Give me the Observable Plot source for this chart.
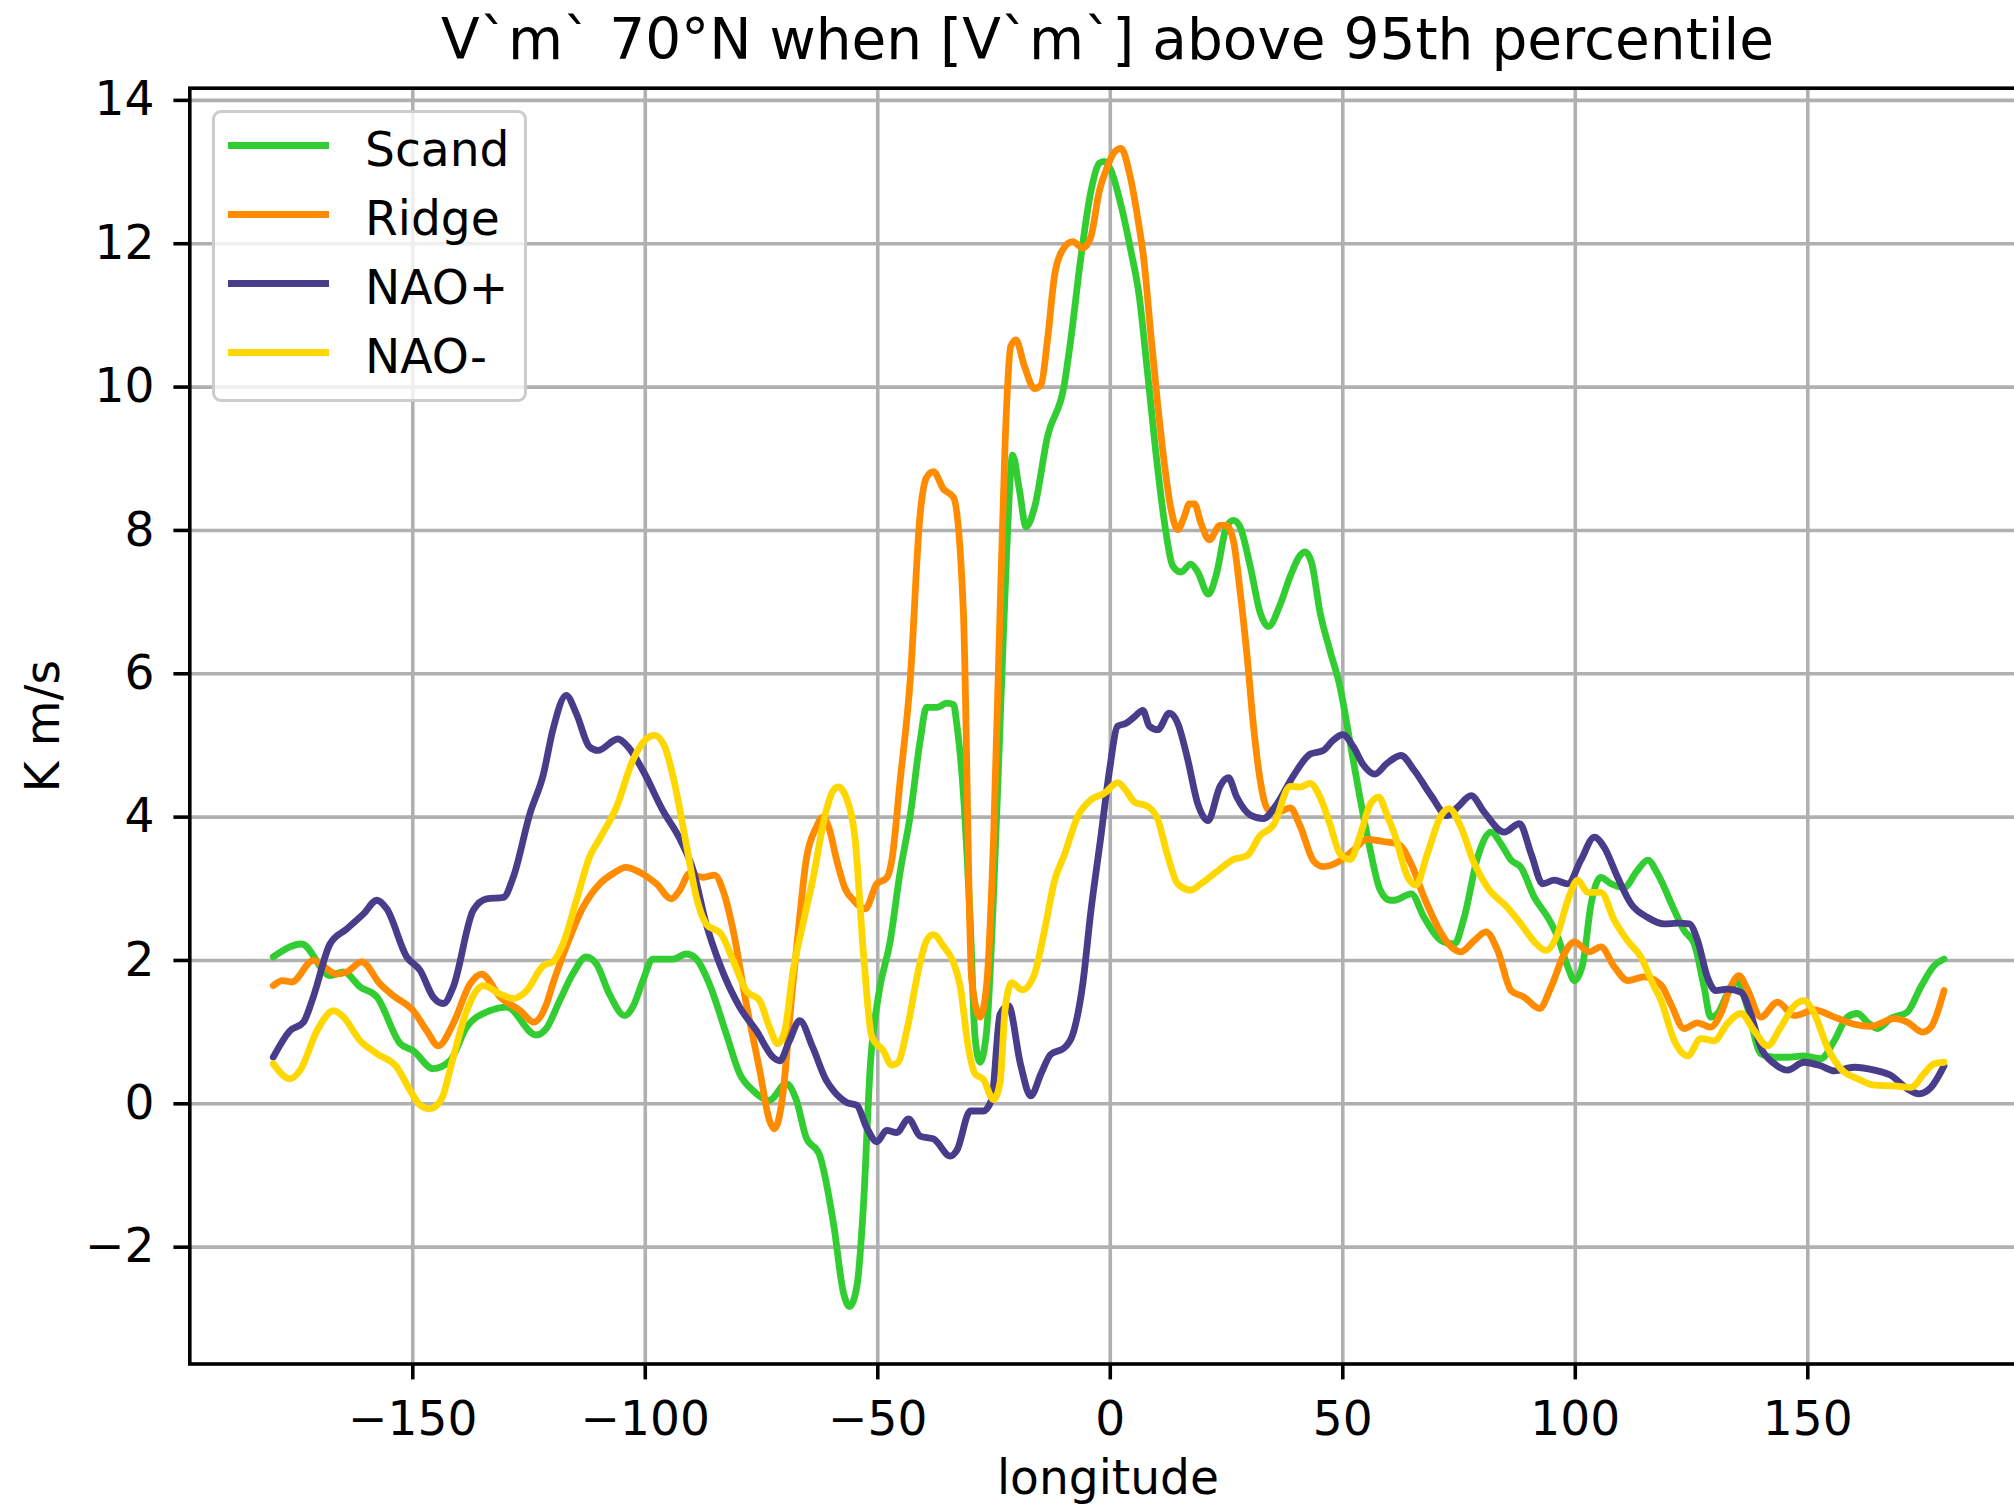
<!DOCTYPE html>
<html><head><meta charset="utf-8">
<script src="https://cdn.jsdelivr.net/npm/d3@7"></script>
<script src="https://cdn.jsdelivr.net/npm/@observablehq/plot@0.6"></script>
<style>
html,body{margin:0;padding:0;background:#fff;overflow:hidden;}
#wrap{position:relative;width:2014px;height:1506px;font-family:"DejaVu Sans",sans-serif;color:#000;}
#chart{position:absolute;left:0;top:0;}
#title{position:absolute;left:1107.5px;top:12.2px;transform:translateX(-50%);white-space:nowrap;font-size:56.5px;line-height:56.5px;}
#legend{position:absolute;left:211.9px;top:110px;width:315.4px;height:292.3px;box-sizing:border-box;border:3.6px solid #cccccc;border-radius:9px;background:rgba(255,255,255,0.8);}
.sw{position:absolute;left:12.8px;width:101px;height:6.8px;}
.lt{position:absolute;left:150.2px;font-size:47.1px;line-height:47.1px;white-space:nowrap;}
</style></head>
<body><div id="wrap"><div id="chart"></div><div id="title">V`m` 70°N when [V`m`] above 95th percentile</div><div id="legend"></div></div>
<script>
const titleText = "V`m` 70°N when [V`m`] above 95th percentile";
const xLabel = "longitude";
const yLabel = "K m/s";
const xTicks = [-150, -100, -50, 0, 50, 100, 150];
const yTicks = [-2, 0, 2, 4, 6, 8, 10, 12, 14];
const seriesNames = ["Scand", "Ridge", "NAO+", "NAO-"];
const seriesColors = ["#32cd32", "#ff8c00", "#483d8b", "#ffd700"];

const scand = [[-180,2.05],[-173.9,2.23],[-167.8,1.79],[-164.9,1.84],[-161.3,1.63],[-157.7,1.49],[-152.7,0.84],[-149.9,0.74],[-145.6,0.49],[-142,0.6],[-138.4,1.07],[-133.4,1.30],[-129.8,1.35],[-123.5,0.96],[-121.3,1.05],[-118.4,1.44],[-115.6,1.81],[-112.7,2.05],[-110.5,1.95],[-107.7,1.53],[-104.4,1.23],[-102.7,1.35],[-100.5,1.72],[-98.4,2.02],[-94,2.02],[-91.2,2.09],[-89,2.02],[-86.2,1.67],[-82.6,0.98],[-79.7,0.42],[-76.9,0.19],[-73.3,0.05],[-69.7,0.28],[-67.5,0.05],[-65.4,-0.47],[-62.6,-0.7],[-59.5,-1.68],[-57.4,-2.63],[-56.1,-2.83],[-54.5,-2.55],[-53.1,-1.44],[-51.6,0.54],[-49.9,1.49],[-47.3,2.28],[-45.2,3.23],[-43,4.03],[-40.9,5.06],[-39.5,5.53],[-37.3,5.53],[-35.2,5.59],[-33.7,5.57],[-33,5.29],[-31.6,4.34],[-30.1,2.52],[-29.1,0.94],[-28,0.58],[-26.6,1.01],[-25.1,2.92],[-23.7,5.29],[-22.3,7.67],[-21,9.05],[-19.6,8.59],[-18.1,8.05],[-16.3,8.32],[-13.5,9.31],[-9.9,10.03],[-8.5,10.66],[-6.3,11.82],[-4.2,12.72],[-2.4,13.12],[-1.3,13.15],[0.1,13.03],[2.3,12.54],[4.4,11.91],[6.2,11.28],[8,10.21],[10.2,8.86],[12,7.96],[13.4,7.51],[15.2,7.42],[17.3,7.53],[18.8,7.42],[21.1,7.11],[22.9,7.41],[25,8.05],[26.5,8.14],[27.9,8.05],[30.1,7.50],[32.2,6.86],[34,6.66],[36.5,6.96],[38.7,7.36],[40.8,7.65],[41.9,7.70],[43.3,7.55],[45.1,6.86],[47.3,6.31],[49.4,5.82],[51.6,5.03],[53.7,4.27],[55.9,3.54],[58,2.99],[60.2,2.84],[61.1,2.84],[64.7,2.93],[67.5,2.60],[71.1,2.28],[74,2.23],[76.1,2.60],[79,3.44],[81.9,3.79],[84,3.63],[86.2,3.40],[88.3,3.30],[91.2,2.88],[94.1,2.60],[96.2,2.33],[98.4,1.91],[99.8,1.72],[101.6,1.95],[103.4,2.79],[105.5,3.16],[107.7,3.07],[110.5,3.02],[113.4,3.26],[115.6,3.40],[117.7,3.21],[121.3,2.70],[123.4,2.42],[125.6,2.23],[127.7,1.63],[129.1,1.21],[130.6,1.26],[132.7,1.53],[134.9,1.70],[137,1.35],[139.9,0.70],[142.8,0.65],[145.6,0.65],[149.2,0.67],[152.8,0.63],[155.7,0.88],[158.5,1.21],[160.7,1.26],[162.8,1.14],[165,1.05],[167.8,1.19],[171.4,1.28],[174.3,1.63],[177.2,1.93],[179.3,2.02]];

const ridge = [[-180,1.65],[-178,1.72],[-176,1.70],[-171.4,2.0],[-166.3,1.81],[-164.2,1.84],[-161,1.98],[-157,1.67],[-154.2,1.51],[-149.9,1.30],[-147,1.02],[-144.5,0.81],[-141.3,1.12],[-137.7,1.67],[-135.2,1.81],[-131.2,1.49],[-126.9,1.30],[-124,1.14],[-121.2,1.40],[-119.9,1.67],[-117,2.19],[-113.4,2.74],[-109.8,3.07],[-107,3.21],[-104.1,3.30],[-101.2,3.23],[-97.6,3.07],[-94.4,2.86],[-92.6,2.98],[-90.5,3.21],[-87.6,3.16],[-85.1,3.19],[-83.3,2.98],[-81.1,2.42],[-78.3,1.40],[-75.4,0.47],[-73.3,-0.23],[-72.2,-0.35],[-70.4,0.14],[-68.6,1.44],[-66.8,2.60],[-65.4,3.40],[-63.2,3.86],[-61.8,4.0],[-60.5,3.85],[-58.8,3.39],[-57,3.0],[-55.2,2.84],[-52.7,2.72],[-50.2,3.07],[-48.1,3.15],[-47,3.39],[-45.2,4.50],[-43,5.93],[-40.9,8.22],[-39.5,8.74],[-38,8.82],[-35.9,8.58],[-33.7,8.46],[-31.6,6.88],[-29.8,1.73],[-28,1.21],[-26.6,1.65],[-25.1,3.71],[-23.7,6.88],[-22.6,9.25],[-21.4,10.57],[-20.3,10.66],[-18.5,10.30],[-16.3,9.98],[-14.9,10.03],[-13.5,10.66],[-12,11.55],[-10.3,11.91],[-8.1,12.03],[-5.9,11.94],[-4.2,12.09],[-2.4,12.72],[-0.6,13.08],[0.9,13.28],[2.3,13.33],[4.1,12.99],[5.9,12.36],[7.3,11.73],[8.7,10.75],[10.2,9.76],[11.6,8.95],[13,8.32],[14.5,8.01],[15.9,8.19],[17,8.37],[18.1,8.37],[19.5,8.10],[21.3,7.87],[23.6,8.07],[25,8.07],[26.5,7.85],[27.9,7.16],[29.4,6.26],[30.8,5.27],[32.2,4.53],[34,4.10],[36.5,4.08],[38.7,4.13],[40.8,3.88],[43.7,3.39],[45.8,3.31],[49.4,3.39],[52.3,3.54],[55.2,3.69],[58.7,3.66],[61.8,3.63],[64.7,3.35],[67.5,2.88],[70.4,2.47],[73.3,2.19],[75.4,2.12],[78.3,2.28],[80.8,2.40],[83.3,2.14],[86.2,1.58],[89,1.49],[92.3,1.33],[94.8,1.63],[97.6,2.09],[99.8,2.26],[103,2.12],[105.5,2.19],[108.4,1.91],[111.3,1.72],[114.8,1.77],[118.4,1.66],[120.5,1.40],[123.4,1.05],[126.3,1.13],[129.1,1.07],[131.3,1.26],[133.4,1.63],[135.2,1.79],[137,1.60],[139.9,1.21],[143.5,1.42],[147.1,1.23],[151.4,1.31],[155.7,1.21],[160,1.11],[163.5,1.08],[168.6,1.19],[171.4,1.14],[174.7,1.00],[176.5,1.07],[179.3,1.58]];

const naoPlus = [[-180,0.65],[-176.4,1.02],[-173.5,1.14],[-171.4,1.49],[-167.8,2.23],[-164.2,2.44],[-160.6,2.65],[-157.7,2.84],[-155.6,2.72],[-151.3,2.05],[-148.4,1.86],[-145.6,1.49],[-143.4,1.40],[-141.3,1.63],[-137,2.70],[-134.1,2.86],[-130.5,2.88],[-128.4,3.16],[-124.8,4.05],[-121.9,4.6],[-119.9,5.21],[-117,5.70],[-114.8,5.44],[-112,4.98],[-110.2,4.93],[-105.9,5.09],[-103.7,4.98],[-100.5,4.65],[-96.2,4.09],[-92.6,3.70],[-89.7,3.26],[-86.9,2.51],[-84,1.95],[-79.7,1.35],[-76.1,1.02],[-72.5,0.65],[-71.1,0.60],[-69,0.88],[-66.8,1.16],[-64,0.79],[-61.1,0.33],[-59.5,0.18],[-56.7,0.02],[-54.5,-0.02],[-52.4,-0.33],[-50.2,-0.53],[-48.1,-0.37],[-45.9,-0.40],[-43.4,-0.21],[-40.9,-0.45],[-38,-0.49],[-34.4,-0.73],[-33,-0.65],[-30.1,-0.10],[-27.3,-0.10],[-25.5,0.06],[-23.7,1.25],[-21.9,1.37],[-19.3,0.55],[-17.1,0.11],[-14.9,0.42],[-12.8,0.69],[-9.9,0.78],[-7.7,1.05],[-5.9,1.68],[-4.2,2.67],[-2,3.74],[-0.2,4.64],[1.6,5.27],[3.4,5.31],[5.2,5.40],[7,5.49],[8.4,5.27],[10.2,5.22],[12.7,5.45],[14.5,5.31],[16.6,4.82],[18.8,4.19],[21,3.95],[23.6,4.43],[25.4,4.55],[27.2,4.28],[30.1,4.03],[32.9,3.98],[35.8,4.18],[39.4,4.58],[43,4.88],[45.8,4.93],[47.9,5.07],[50,5.15],[52.3,4.98],[54.4,4.73],[56.9,4.60],[59.5,4.75],[62.5,4.86],[65.4,4.65],[69,4.30],[72.5,4.02],[74.7,4.14],[77.6,4.30],[80.4,4.07],[84.7,3.79],[88,3.91],[90.5,3.49],[93,3.07],[95.5,3.12],[98.4,3.07],[101.2,3.40],[104.1,3.72],[106.2,3.58],[109.1,3.16],[112,2.79],[115.6,2.60],[119.1,2.51],[122,2.52],[124.5,2.51],[126.3,2.28],[128.4,1.77],[130.2,1.58],[132.7,1.60],[135.6,1.56],[137.7,1.26],[139.9,0.79],[142.8,0.56],[145.6,0.47],[149.2,0.58],[152.8,0.53],[155.7,0.46],[160,0.51],[164.3,0.47],[167.8,0.40],[171.4,0.21],[173.9,0.14],[176.5,0.23],[179.3,0.53]];

const naoMinus = [[-180,0.56],[-176.4,0.35],[-174.2,0.47],[-170.6,1.02],[-167,1.30],[-164.9,1.21],[-161.3,0.88],[-157.7,0.70],[-153.4,0.51],[-150.6,0.19],[-148.4,-0.02],[-146.3,-0.07],[-143.8,0.07],[-141.3,0.65],[-138.4,1.30],[-134.8,1.65],[-131.2,1.53],[-128.4,1.47],[-125.5,1.58],[-121.9,1.93],[-119.9,1.98],[-117.7,2.23],[-114.8,2.84],[-112,3.44],[-109.8,3.70],[-106.2,4.14],[-102.7,4.79],[-99.8,5.09],[-98,5.14],[-95.8,4.98],[-94,4.56],[-91.2,3.63],[-89,2.88],[-86.9,2.51],[-83.7,2.37],[-81.1,2.0],[-78.3,1.58],[-75.4,1.44],[-73.3,1.07],[-71.5,0.84],[-70,1.02],[-68.2,1.86],[-66.1,2.51],[-64,3.12],[-61.1,4.09],[-59.6,4.37],[-58.5,4.42],[-56.7,4.26],[-54.9,3.71],[-53.1,2.12],[-51.3,0.94],[-48.8,0.74],[-47,0.54],[-45.6,0.58],[-43.8,1.01],[-40.9,1.97],[-39.5,2.28],[-38,2.36],[-35.9,2.20],[-33.7,1.97],[-32.3,1.65],[-30.5,0.78],[-29.1,0.42],[-27.3,0.34],[-25.1,0.06],[-23.7,0.30],[-22.6,1.33],[-21.2,1.69],[-18.9,1.59],[-16.3,1.81],[-14.2,2.40],[-12,3.11],[-9.9,3.47],[-7,4.01],[-4.2,4.24],[-1.3,4.33],[1.6,4.48],[3.4,4.37],[5.2,4.21],[8,4.15],[10.2,3.97],[12.3,3.47],[14.5,3.07],[17.3,2.98],[19.5,3.07],[22.9,3.24],[26.5,3.41],[29.4,3.46],[32.2,3.74],[35.1,3.89],[38.7,4.43],[40.8,4.42],[43,4.47],[45.1,4.28],[47.3,3.89],[49.4,3.49],[51.6,3.41],[53.7,3.74],[55.9,4.18],[57.7,4.28],[59.5,4.03],[61.1,3.77],[64,3.16],[65.7,3.05],[68.2,3.49],[71.1,4.02],[72.9,4.12],[75.4,3.86],[78.3,3.35],[81.1,3.02],[85.4,2.74],[88.3,2.51],[91.2,2.26],[93.7,2.14],[96.2,2.37],[98.4,2.84],[100.5,3.12],[102.7,2.95],[105.5,2.95],[108.4,2.56],[111.2,2.28],[114.1,2.05],[117,1.63],[118.4,1.45],[121.3,0.88],[124.2,0.67],[127,0.91],[129.9,0.88],[132.7,1.12],[135.6,1.26],[138.5,1.02],[141.3,0.81],[144.2,1.07],[147.1,1.37],[149.2,1.44],[151.4,1.26],[154.2,0.79],[157.1,0.49],[160.7,0.35],[164.3,0.26],[168.6,0.25],[172.2,0.23],[175,0.42],[177.2,0.56],[179.3,0.58]];

const seriesData = [scand, ridge, naoPlus, naoMinus];
const rows = seriesData.flatMap((arr, i) => arr.map(([lon, v]) => ({series: seriesNames[i], lon, v})));
const fmt = d => (d < 0 ? "\u2212" + Math.abs(d) : String(d));

const chart = Plot.plot({
  width: 2014,
  height: 1506,
  marginTop: 87.7,
  marginBottom: 142.5,
  marginLeft: 189.3,
  marginRight: -11.6,
  style: {fontFamily: "DejaVu Sans", fontSize: "47.1px", background: "transparent", color: "black", overflow: "hidden"},
  x: {domain: [-197.95, 196.95]},
  y: {domain: [-3.63, 14.17]},
  color: {domain: seriesNames, range: seriesColors},
  marks: [
    Plot.gridX(xTicks, {stroke: "#b0b0b0", strokeOpacity: 1, strokeWidth: 3.6}),
    Plot.gridY(yTicks, {stroke: "#b0b0b0", strokeOpacity: 1, strokeWidth: 3.6}),
    Plot.line(rows, {x: "lon", y: "v", z: "series", stroke: "series", strokeWidth: 6.8, curve: "monotone-x", strokeLinejoin: "round"}),
    Plot.frame({stroke: "black", strokeWidth: 3.6}),
    Plot.axisX(xTicks, {tickSize: 15.9, tickPadding: 21.5, strokeWidth: 3.6, fontSize: 47.1, tickFormat: fmt, label: xLabel, labelAnchor: "center", labelOffset: 129.5, labelArrow: "none"}),
    Plot.axisY(yTicks, {tickSize: 15.9, tickPadding: 19.4, strokeWidth: 3.6, fontSize: 47.1, tickFormat: fmt, label: yLabel, labelAnchor: "center", labelOffset: 164, labelArrow: "none"})
  ]
});
document.getElementById("chart").appendChild(chart);

const legend = document.getElementById("legend");
seriesNames.forEach((name, i) => {
  const sw = document.createElement("div");
  sw.className = "sw";
  sw.style.top = (32.3 - 3.4 + i * 69) + "px";
  sw.style.background = seriesColors[i];
  legend.appendChild(sw);
  const t = document.createElement("div");
  t.className = "lt";
  t.style.top = (13.0 + i * 69) + "px";
  t.textContent = name;
  legend.appendChild(t);
});
</script>
</body></html>
